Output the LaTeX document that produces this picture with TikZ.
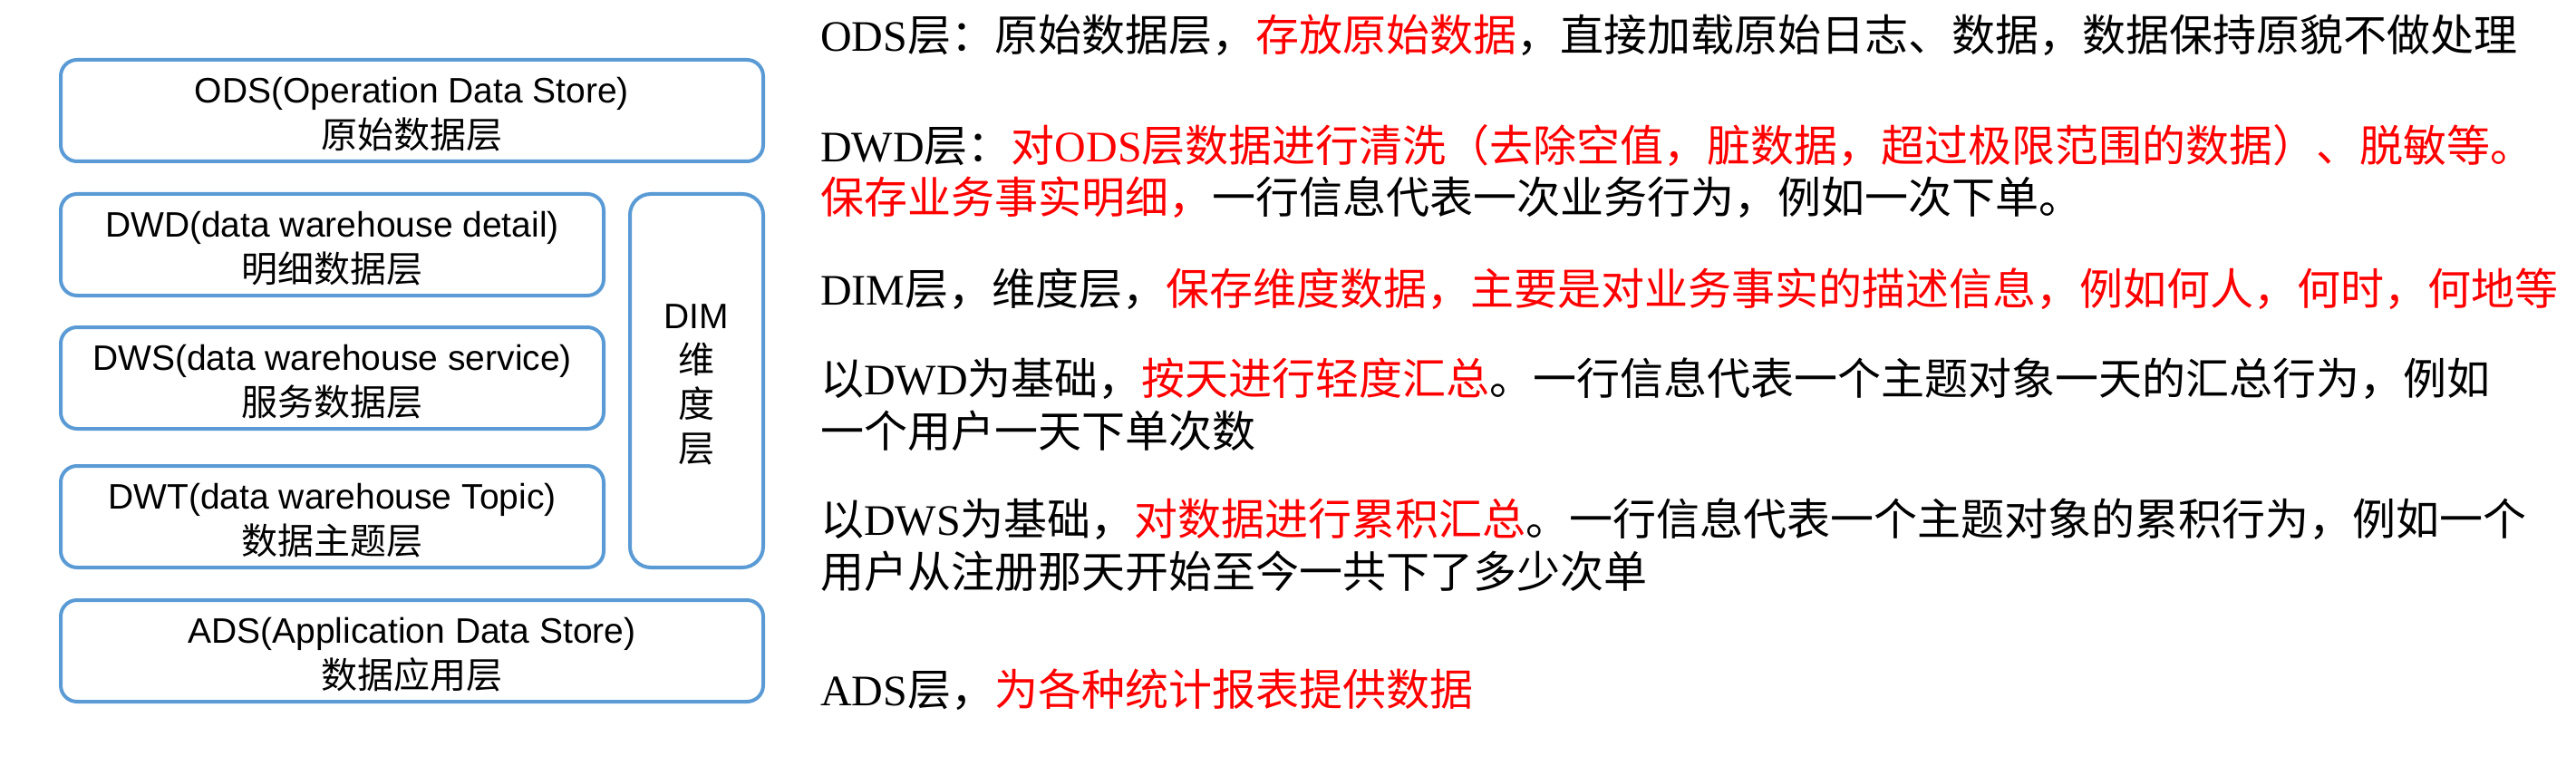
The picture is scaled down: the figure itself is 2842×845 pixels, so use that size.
\documentclass[tikz,border=0pt]{standalone}
\usepackage{fontspec}
\setmainfont{Liberation Serif}
\newfontfamily\cjk{Noto Sans CJK SC}
\newfontfamily\arial{Liberation Sans}
\newfontfamily\tnr{Liberation Serif}
\definecolor{boxblue}{HTML}{5B9BD5}
\definecolor{hired}{HTML}{FF0000}
\newcommand{\hl}[1]{\textcolor{hired}{#1}}
\begin{document}
\begin{tikzpicture}[x=1pt,y=-1pt,
  layerbox/.style={draw=boxblue, line width=4pt, rounded corners=18pt, inner sep=0pt},
  boxen/.style={anchor=base, inner sep=0pt, font=\arial\fontsize{39}{39}\selectfont},
  boxzh/.style={anchor=base, inner sep=0pt, font=\cjk\fontsize{40}{40}\selectfont},
  desc/.style={anchor=base west, inner sep=0pt, font=\cjk\fontsize{48}{48}\selectfont},
]
\useasboundingbox (0,0) rectangle (2842,845);

% layer boxes
\node[layerbox, minimum width=775pt, minimum height=112pt] (ods) at (454.5,122) {};
\node[layerbox, minimum width=599pt, minimum height=112pt] (dwd) at (366.5,270) {};
\node[layerbox, minimum width=599pt, minimum height=112pt] (dws) at (366.5,417) {};
\node[layerbox, minimum width=599pt, minimum height=112pt] (dwt) at (366.5,570) {};
\node[layerbox, minimum width=775pt, minimum height=112pt] (ads) at (454.5,718) {};
\node[layerbox, rounded corners=23pt, minimum width=147pt, minimum height=412pt] (dim) at (768.5,420) {};

% box texts
\node[boxen] (odsA) at (454.5,114) {ODS(Operation Data Store)};
\node[boxzh] (odsB) at (454.5,164) {原始数据层};
\node[boxen] (dwdA) at (366.5,261) {DWD(data warehouse detail)};
\node[boxzh] (dwdB) at (366.5,311) {明细数据层};
\node[boxen] (dwsA) at (366.5,408) {DWS(data warehouse service)};
\node[boxzh] (dwsB) at (366.5,458) {服务数据层};
\node[boxen] (dwtA) at (366.5,561) {DWT(data warehouse Topic)};
\node[boxzh] (dwtB) at (366.5,611) {数据主题层};
\node[boxen] (adsA) at (454.5,709) {ADS(Application Data Store)};
\node[boxzh] (adsB) at (454.5,759) {数据应用层};
\node[boxen] (dimA) at (768.5,362) {DIM};
\node[boxzh] (dimB) at (768.5,411) {维};
\node[boxzh] (dimC) at (768.5,460) {度};
\node[boxzh] (dimD) at (768.5,509) {层};

% descriptions
\node[desc] (t1) at (905,57) {{\tnr ODS}层：原始数据层，\hl{存放原始数据}，直接加载原始日志、数据，数据保持原貌不做处理};
\node[desc] (t2) at (905,179) {{\tnr DWD}层：\hl{对{\tnr ODS}层数据进行清洗（去除空值，脏数据，超过极限范围的数据）、脱敏等。}};
\node[desc] (t3) at (905,236) {\hl{保存业务事实明细，}一行信息代表一次业务行为，例如一次下单。};
\node[desc] (t4) at (905,336) {{\tnr DIM}层，维度层，\hl{保存维度数据，主要是对业务事实的描述信息，例如何人，何时，何地等}};
\node[desc] (t5) at (905,435) {以{\tnr DWD}为基础，\hl{按天进行轻度汇总}。一行信息代表一个主题对象一天的汇总行为，例如};
\node[desc] (t6) at (905,493) {一个用户一天下单次数};
\node[desc] (t7) at (905,590) {以{\tnr DWS}为基础，\hl{对数据进行累积汇总}。一行信息代表一个主题对象的累积行为，例如一个};
\node[desc] (t8) at (905,648) {用户从注册那天开始至今一共下了多少次单};
\node[desc] (t9) at (905,778) {{\tnr ADS}层，\hl{为各种统计报表提供数据}};
\end{tikzpicture}
\end{document}
